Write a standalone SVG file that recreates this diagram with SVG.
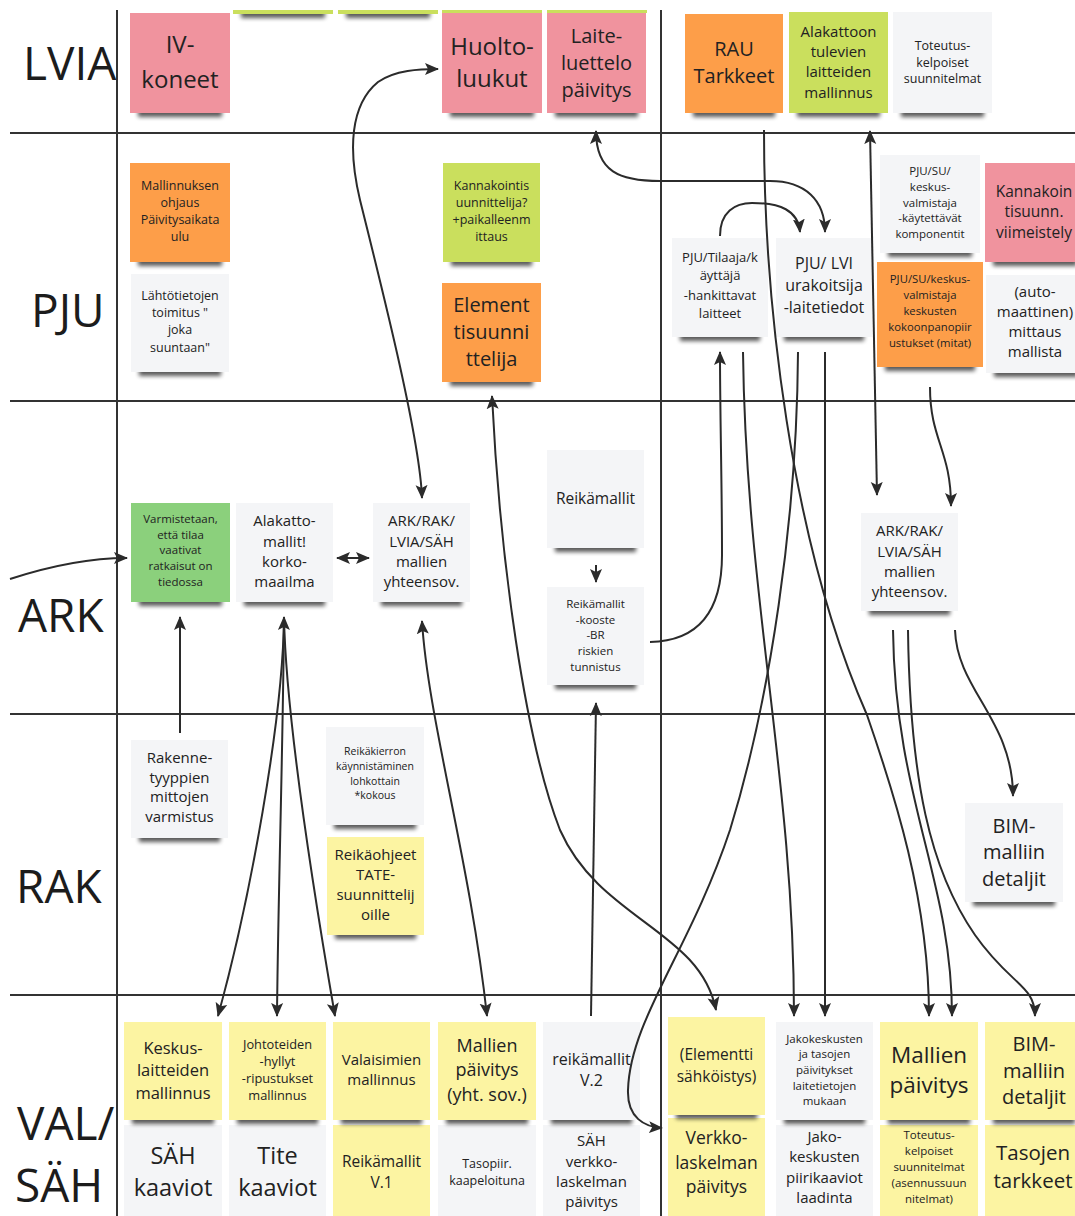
<svg xmlns="http://www.w3.org/2000/svg" width="1075" height="1216" viewBox="0 0 1075 1216">
<defs>
<style>
.grid{stroke:#333;stroke-width:2;fill:none}
.lane{font-family:"Open Sans","Noto Sans",sans-serif;font-size:46px;fill:#1c1c1c}
.t{font-family:"Open Sans","Noto Sans",sans-serif;fill:#222;text-anchor:middle}
.note{filter:url(#sh)}
.pink{fill:#f0939e}
.orange{fill:#fd9e49}
.lime{fill:#cadf5d}
.green{fill:#8bd07c}
.yellow{fill:#fcf4a2}
.gray{fill:#f4f5f7}
.con{fill:none;stroke:#2b2b2b;stroke-width:2}
</style>
<marker id="ah" viewBox="0 0 14 14" refX="13" refY="7" markerWidth="14" markerHeight="14" markerUnits="userSpaceOnUse" orient="auto-start-reverse">
<path d="M0,1 L14,7 L0,13 L3,7 Z" fill="#2b2b2b"/>
</marker>
<filter id="sh" x="-10%" y="-10%" width="120%" height="130%">
<feMorphology in="SourceAlpha" operator="erode" radius="8 2" result="e"/>
<feOffset in="e" dy="6" result="o"/>
<feGaussianBlur in="o" stdDeviation="2.2" result="b"/>
<feComponentTransfer in="b" result="s"><feFuncA type="linear" slope="0.65"/></feComponentTransfer>
<feMerge><feMergeNode in="s"/><feMergeNode in="SourceGraphic"/></feMerge>
</filter>
<clipPath id="board"><rect x="0" y="10" width="1075" height="1206"/></clipPath>
</defs>
<rect width="1075" height="1216" fill="#fff"/>

<!-- swimlane grid and lane titles -->
<g id="lanes">
<path class="grid" d="M117,10 V1216 M661,10 V1216 M10,133 H1075 M10,401 H1075 M10,714 H1075 M10,995 H1075"/>
<text class="lane" x="23" y="80" font-size="48">LVIA</text>
<text class="lane" x="31" y="327">PJU</text>
<text class="lane" x="18" y="632">ARK</text>
<text class="lane" x="16" y="903">RAK</text>
<text class="lane" x="17" y="1140">VAL/</text>
<text class="lane" x="15" y="1202">SÄH</text>
</g>

<g id="notes">
<!-- notes running off the top edge -->
<g id="n-top-partial" clip-path="url(#board)">
<rect class="note lime" x="233" y="-86" width="100" height="100"/>
<rect class="note lime" x="338" y="-86" width="100" height="100"/>
<rect class="note lime" x="442" y="-87" width="100" height="100"/>
<rect class="note lime" x="547" y="-87" width="100" height="100"/>
</g>

<!-- LVIA -->
<g id="n-iv-koneet"><rect class="note pink" x="130" y="13" width="100" height="100"/>
<text class="t" font-size="24"><tspan x="180" y="53">IV-</tspan><tspan x="180" y="88">koneet</tspan></text></g>
<g id="n-huoltoluukut"><rect class="note pink" x="442" y="13" width="100" height="100"/>
<text class="t" font-size="24"><tspan x="492" y="55">Huolto-</tspan><tspan x="492" y="87">luukut</tspan></text></g>
<g id="n-laiteluettelo"><rect class="note pink" x="547" y="13" width="99" height="100"/>
<text class="t" font-size="20"><tspan x="596.5" y="43">Laite-</tspan><tspan x="596.5" y="70">luettelo</tspan><tspan x="596.5" y="97">päivitys</tspan></text></g>
<g id="n-rau"><rect class="note orange" x="685" y="14" width="98" height="99"/>
<text class="t" font-size="20"><tspan x="734" y="56">RAU</tspan><tspan x="734" y="83">Tarkkeet</tspan></text></g>
<g id="n-alakattoon"><rect class="note lime" x="789" y="12" width="99" height="101"/>
<text class="t" font-size="15"><tspan x="838.5" y="37">Alakattoon</tspan><tspan x="838.5" y="57">tulevien</tspan><tspan x="838.5" y="77">laitteiden</tspan><tspan x="838.5" y="98">mallinnus</tspan></text></g>
<g id="n-toteutus-top"><rect class="note gray" x="893" y="12" width="99" height="101"/>
<text class="t" font-size="12.5"><tspan x="942.5" y="50">Toteutus-</tspan><tspan x="942.5" y="67">kelpoiset</tspan><tspan x="942.5" y="83">suunnitelmat</tspan></text></g>

<!-- PJU -->
<g id="n-mallinnuksen-ohjaus"><rect class="note orange" x="130" y="163" width="100" height="99"/>
<text class="t" font-size="12.5"><tspan x="180" y="190">Mallinnuksen</tspan><tspan x="180" y="207">ohjaus</tspan><tspan x="180" y="224">Päivitysaikata</tspan><tspan x="180" y="241">ulu</tspan></text></g>
<g id="n-lahtotiedot"><rect class="note gray" x="131" y="274" width="98" height="98"/>
<text class="t" font-size="12.5"><tspan x="180" y="300">Lähtötietojen</tspan><tspan x="180" y="317">toimitus "</tspan><tspan x="180" y="334">joka</tspan><tspan x="180" y="352">suuntaan"</tspan></text></g>
<g id="n-kannakointisuunnittelija"><rect class="note lime" x="443" y="163" width="97" height="99"/>
<text class="t" font-size="12.5"><tspan x="491.5" y="190">Kannakointis</tspan><tspan x="491.5" y="207">uunnittelija?</tspan><tspan x="491.5" y="224">+paikalleenm</tspan><tspan x="491.5" y="241">ittaus</tspan></text></g>
<g id="n-elementtisuunnittelija"><rect class="note orange" x="442" y="283" width="99" height="99"/>
<text class="t" font-size="20"><tspan x="491.5" y="312">Element</tspan><tspan x="491.5" y="339">tisuunni</tspan><tspan x="491.5" y="366">ttelija</tspan></text></g>
<g id="n-pju-tilaaja"><rect class="note gray" x="672" y="238" width="96" height="99"/>
<text class="t" font-size="13"><tspan x="720" y="262">PJU/Tilaaja/k</tspan><tspan x="720" y="280">äyttäjä</tspan><tspan x="720" y="300">-hankittavat</tspan><tspan x="720" y="318">laitteet</tspan></text></g>
<g id="n-pju-lvi"><rect class="note gray" x="776" y="238" width="96" height="99"/>
<text class="t" font-size="16"><tspan x="824" y="269">PJU/ LVI</tspan><tspan x="824" y="291">urakoitsija</tspan><tspan x="824" y="313">-laitetiedot</tspan></text></g>
<g id="n-pju-su-komponentit"><rect class="note gray" x="880" y="155" width="100" height="98"/>
<text class="t" font-size="11.5"><tspan x="930" y="175">PJU/SU/</tspan><tspan x="930" y="191">keskus-</tspan><tspan x="930" y="207">valmistaja</tspan><tspan x="930" y="222">-käytettävät</tspan><tspan x="930" y="238">komponentit</tspan></text></g>
<g id="n-kannakointi-viimeistely"><rect class="note pink" x="985" y="163" width="100" height="99"/>
<text class="t" font-size="15.5"><tspan x="1034" y="197">Kannakoin</tspan><tspan x="1034" y="217">tisuunn.</tspan><tspan x="1034" y="238">viimeistely</tspan></text></g>
<g id="n-pju-su-kokoonpano"><rect class="note orange" x="877" y="262" width="106" height="105"/>
<text class="t" font-size="11.3"><tspan x="930" y="283">PJU/SU/keskus-</tspan><tspan x="930" y="299">valmistaja</tspan><tspan x="930" y="315">keskusten</tspan><tspan x="930" y="331">kokoonpanopiir</tspan><tspan x="930" y="347">ustukset (mitat)</tspan></text></g>
<g id="n-automaattinen-mittaus"><rect class="note gray" x="986" y="275" width="100" height="98"/>
<text class="t" font-size="15"><tspan x="1035" y="297">(auto-</tspan><tspan x="1035" y="317">maattinen)</tspan><tspan x="1035" y="337">mittaus</tspan><tspan x="1035" y="357">mallista</tspan></text></g>

<!-- ARK -->
<g id="n-varmistetaan"><rect class="note green" x="131" y="503" width="99" height="99"/>
<text class="t" font-size="11.5"><tspan x="180.5" y="523">Varmistetaan,</tspan><tspan x="180.5" y="539">että tilaa</tspan><tspan x="180.5" y="554">vaativat</tspan><tspan x="180.5" y="570">ratkaisut on</tspan><tspan x="180.5" y="586">tiedossa</tspan></text></g>
<g id="n-alakattomallit"><rect class="note gray" x="236" y="503" width="97" height="99"/>
<text class="t" font-size="15"><tspan x="284.5" y="526">Alakatto-</tspan><tspan x="284.5" y="547">mallit!</tspan><tspan x="284.5" y="567">korko-</tspan><tspan x="284.5" y="587">maailma</tspan></text></g>
<g id="n-yhteensovitus-1"><rect class="note gray" x="373" y="503" width="97" height="99"/>
<text class="t" font-size="15"><tspan x="421.5" y="526">ARK/RAK/</tspan><tspan x="421.5" y="547">LVIA/SÄH</tspan><tspan x="421.5" y="567">mallien</tspan><tspan x="421.5" y="587">yhteensov.</tspan></text></g>
<g id="n-reikamallit"><rect class="note gray" x="547" y="450" width="97" height="98"/>
<text class="t" font-size="15.5"><tspan x="595.5" y="504">Reikämallit</tspan></text></g>
<g id="n-reikamallit-kooste"><rect class="note gray" x="547" y="587" width="97" height="98"/>
<text class="t" font-size="11.5"><tspan x="595.5" y="608">Reikämallit</tspan><tspan x="595.5" y="624">-kooste</tspan><tspan x="595.5" y="639">-BR</tspan><tspan x="595.5" y="655">riskien</tspan><tspan x="595.5" y="671">tunnistus</tspan></text></g>
<g id="n-yhteensovitus-2"><rect class="note gray" x="861" y="513" width="97" height="98"/>
<text class="t" font-size="15"><tspan x="909.5" y="536">ARK/RAK/</tspan><tspan x="909.5" y="557">LVIA/SÄH</tspan><tspan x="909.5" y="577">mallien</tspan><tspan x="909.5" y="597">yhteensov.</tspan></text></g>

<!-- RAK -->
<g id="n-rakennetyypit"><rect class="note gray" x="131" y="740" width="97" height="98"/>
<text class="t" font-size="15"><tspan x="179.5" y="763">Rakenne-</tspan><tspan x="179.5" y="783">tyyppien</tspan><tspan x="179.5" y="802">mittojen</tspan><tspan x="179.5" y="822">varmistus</tspan></text></g>
<g id="n-reikakierros"><rect class="note gray" x="326" y="727" width="98" height="98"/>
<text class="t" font-size="10.5"><tspan x="375" y="755">Reikäkierron</tspan><tspan x="375" y="770">käynnistäminen</tspan><tspan x="375" y="785">lohkottain</tspan><tspan x="375" y="799">*kokous</tspan></text></g>
<g id="n-reikaohjeet"><rect class="note yellow" x="327" y="837" width="97" height="98"/>
<text class="t" font-size="15"><tspan x="375.5" y="860">Reikäohjeet</tspan><tspan x="375.5" y="880">TATE-</tspan><tspan x="375.5" y="900">suunnittelij</tspan><tspan x="375.5" y="920">oille</tspan></text></g>
<g id="n-bim-detaljit-rak"><rect class="note gray" x="965" y="803" width="98" height="99"/>
<text class="t" font-size="20"><tspan x="1014" y="833">BIM-</tspan><tspan x="1014" y="859">malliin</tspan><tspan x="1014" y="886">detaljit</tspan></text></g>

<!-- VAL/SÄH, lower row -->
<g id="n-sah-kaaviot"><rect class="note gray" x="124" y="1125" width="98" height="98"/>
<text class="t" font-size="23.5"><tspan x="173" y="1164">SÄH</tspan><tspan x="173" y="1196">kaaviot</tspan></text></g>
<g id="n-tite-kaaviot"><rect class="note gray" x="229" y="1125" width="97" height="98"/>
<text class="t" font-size="23.5"><tspan x="277.5" y="1164">Tite</tspan><tspan x="277.5" y="1196">kaaviot</tspan></text></g>
<g id="n-reikamallit-v1"><rect class="note yellow" x="333" y="1125" width="97" height="98"/>
<text class="t" font-size="15.5"><tspan x="381.5" y="1167">Reikämallit</tspan><tspan x="381.5" y="1188">V.1</tspan></text></g>
<g id="n-tasopiir"><rect class="note gray" x="438" y="1125" width="98" height="98"/>
<text class="t" font-size="12.5"><tspan x="487" y="1168">Tasopiir.</tspan><tspan x="487" y="1185">kaapeloituna</tspan></text></g>
<g id="n-sah-verkkolaskelma"><rect class="note gray" x="543" y="1125" width="97" height="98"/>
<text class="t" font-size="15"><tspan x="591.5" y="1146">SÄH</tspan><tspan x="591.5" y="1167">verkko-</tspan><tspan x="591.5" y="1187">laskelman</tspan><tspan x="591.5" y="1207">päivitys</tspan></text></g>
<g id="n-verkkolaskelma"><rect class="note yellow" x="668" y="1118" width="97" height="98"/>
<text class="t" font-size="17.5"><tspan x="716.5" y="1144">Verkko-</tspan><tspan x="716.5" y="1169">laskelman</tspan><tspan x="716.5" y="1193">päivitys</tspan></text></g>
<g id="n-jakokeskus-piirikaaviot"><rect class="note gray" x="776" y="1125" width="97" height="98"/>
<text class="t" font-size="15"><tspan x="824.5" y="1142">Jako-</tspan><tspan x="824.5" y="1162">keskusten</tspan><tspan x="824.5" y="1183">piirikaaviot</tspan><tspan x="824.5" y="1203">laadinta</tspan></text></g>
<g id="n-toteutus-asennus"><rect class="note yellow" x="880" y="1125" width="98" height="98"/>
<text class="t" font-size="11.5"><tspan x="929" y="1139">Toteutus-</tspan><tspan x="929" y="1155">kelpoiset</tspan><tspan x="929" y="1171">suunnitelmat</tspan><tspan x="929" y="1187">(asennussuun</tspan><tspan x="929" y="1203">nitelmat)</tspan></text></g>
<g id="n-tasojen-tarkkeet"><rect class="note yellow" x="985" y="1125" width="98" height="98"/>
<text class="t" font-size="20.5"><tspan x="1033" y="1160">Tasojen</tspan><tspan x="1033" y="1188">tarkkeet</tspan></text></g>

<!-- VAL/SÄH, upper row -->
<g id="n-keskuslaitteet"><rect class="note yellow" x="124" y="1022" width="98" height="98"/>
<text class="t" font-size="16.5"><tspan x="173" y="1054">Keskus-</tspan><tspan x="173" y="1076">laitteiden</tspan><tspan x="173" y="1099">mallinnus</tspan></text></g>
<g id="n-johtotiet"><rect class="note yellow" x="229" y="1022" width="97" height="98"/>
<text class="t" font-size="12.8"><tspan x="277.5" y="1049">Johtoteiden</tspan><tspan x="277.5" y="1066">-hyllyt</tspan><tspan x="277.5" y="1083">-ripustukset</tspan><tspan x="277.5" y="1100">mallinnus</tspan></text></g>
<g id="n-valaisimet"><rect class="note yellow" x="333" y="1022" width="97" height="98"/>
<text class="t" font-size="15"><tspan x="381.5" y="1065">Valaisimien</tspan><tspan x="381.5" y="1085">mallinnus</tspan></text></g>
<g id="n-mallien-paivitys-1"><rect class="note yellow" x="438" y="1022" width="98" height="98"/>
<text class="t" font-size="18"><tspan x="487" y="1052">Mallien</tspan><tspan x="487" y="1076">päivitys</tspan><tspan x="487" y="1101">(yht. sov.)</tspan></text></g>
<g id="n-reikamallit-v2"><rect class="note gray" x="543" y="1022" width="97" height="98"/>
<text class="t" font-size="16"><tspan x="591.5" y="1065">reikämallit</tspan><tspan x="591.5" y="1086">V.2</tspan></text></g>
<g id="n-elementtisahkoistys"><rect class="note yellow" x="668" y="1017" width="97" height="98"/>
<text class="t" font-size="15.5"><tspan x="716.5" y="1060">(Elementti</tspan><tspan x="716.5" y="1082">sähköistys)</tspan></text></g>
<g id="n-jakokeskus-paivitykset"><rect class="note gray" x="776" y="1022" width="97" height="98"/>
<text class="t" font-size="11.5"><tspan x="824.5" y="1043">Jakokeskusten</tspan><tspan x="824.5" y="1058">ja tasojen</tspan><tspan x="824.5" y="1074">päivitykset</tspan><tspan x="824.5" y="1090">laitetietojen</tspan><tspan x="824.5" y="1105">mukaan</tspan></text></g>
<g id="n-mallien-paivitys-2"><rect class="note yellow" x="880" y="1022" width="98" height="98"/>
<text class="t" font-size="22.5"><tspan x="929" y="1063">Mallien</tspan><tspan x="929" y="1093">päivitys</tspan></text></g>
<g id="n-bim-detaljit-sah"><rect class="note yellow" x="985" y="1022" width="98" height="98"/>
<text class="t" font-size="20"><tspan x="1034" y="1051">BIM-</tspan><tspan x="1034" y="1078">malliin</tspan><tspan x="1034" y="1104">detaljit</tspan></text></g>
</g>

<!-- arrows between notes -->
<g id="connectors" class="con">
<path d="M10,579 C50,566 90,558 127,558" marker-end="url(#ah)"/>
<path d="M180,733 L180,617" marker-end="url(#ah)"/>
<path d="M284,617 C283,720 250,900 218,1016" marker-end="url(#ah)"/>
<path d="M284,617 C283,750 278,900 277,1016" marker-start="url(#ah)" marker-end="url(#ah)"/>
<path d="M284,617 C286,720 315,900 335,1016" marker-end="url(#ah)"/>
<path d="M337,558 L369,558" marker-start="url(#ah)" marker-end="url(#ah)"/>
<path d="M422,498 C420,440 385,300 360,200 C348,150 350,105 378,82 C395,70 420,69 438,69" marker-start="url(#ah)" marker-end="url(#ah)"/>
<path d="M422,621 C428,720 470,860 487,1016" marker-start="url(#ah)" marker-end="url(#ah)"/>
<path d="M492,396 C500,560 525,740 560,830 C600,920 700,930 716,1010" marker-start="url(#ah)" marker-end="url(#ah)"/>
<path d="M650,642 C700,641 722,610 722,555 C722,480 720,420 720,352" marker-end="url(#ah)"/>
<path d="M596,565 L596,582" marker-end="url(#ah)"/>
<path d="M591,1016 L596,703" marker-end="url(#ah)"/>
<path d="M596,131 C596,172 620,181 660,181 L770,181 C805,181 825,200 825,232" marker-start="url(#ah)" marker-end="url(#ah)"/>
<path d="M720,236 C720,212 735,203 752,203 C780,203 798,210 800,232" marker-end="url(#ah)"/>
<path d="M764,130 C764,300 790,540 867,715 C894,793 929,900 929,1016" marker-end="url(#ah)"/>
<path d="M743,352 C746,600 794,780 794,1016" marker-end="url(#ah)"/>
<path d="M798,352 C797,520 770,700 730,830 C690,950 630,1020 628,1090 C627,1118 645,1127 662,1128" marker-end="url(#ah)"/>
<path d="M825,352 L825,1016" marker-end="url(#ah)"/>
<path d="M870,131 L877,495" marker-start="url(#ah)" marker-end="url(#ah)"/>
<path d="M930,387 C930,440 951,450 951,506" marker-end="url(#ah)"/>
<path d="M893,630 C895,800 952,880 952,1016" marker-end="url(#ah)"/>
<path d="M908,630 C910,780 930,870 975,935 C1010,985 1035,985 1035,1016" marker-end="url(#ah)"/>
<path d="M955,630 C957,690 1013,720 1013,796" marker-end="url(#ah)"/>
</g>
</svg>
